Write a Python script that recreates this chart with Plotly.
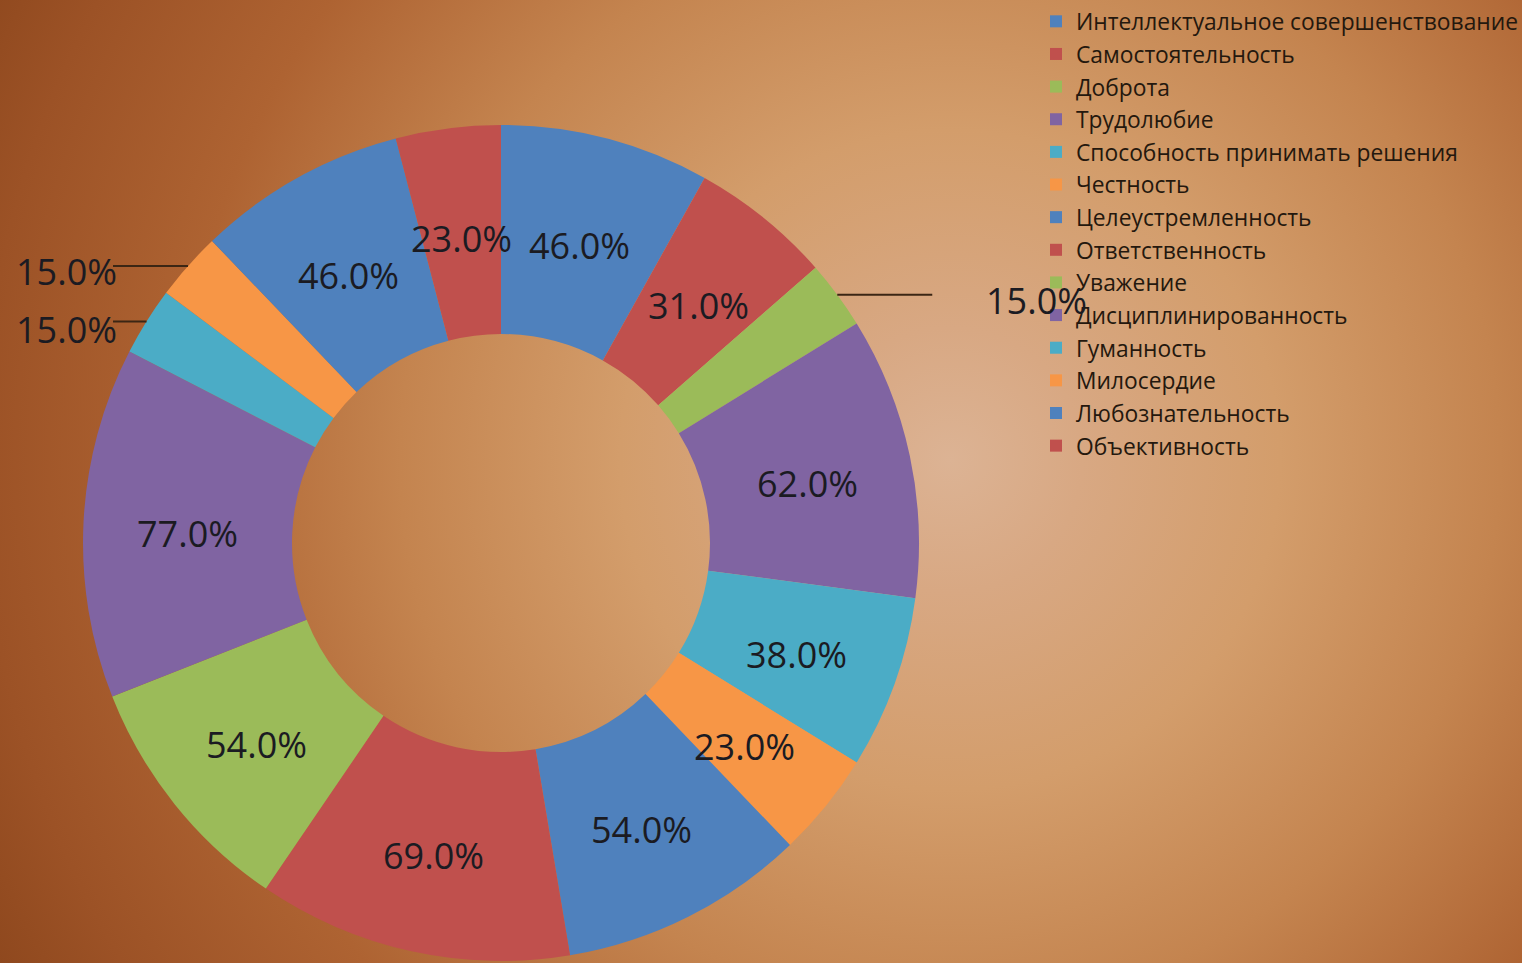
import math
import base64
import plotly.graph_objects as go

# Data: share of respondents naming each quality (%)
categories = [
    "Интеллектуальное совершенствование",
    "Самостоятельность",
    "Доброта",
    "Трудолюбие",
    "Способность принимать решения",
    "Честность",
    "Целеустремленность",
    "Ответственность",
    "Уважение",
    "Дисциплинированность",
    "Гуманность",
    "Милосердие",
    "Любознательность",
    "Объективность",
]
values = [46, 31, 15, 62, 38, 23, 54, 69, 54, 77, 15, 15, 46, 23]

palette = ["#4f81bd", "#c0504d", "#9bbb59", "#8064a2", "#4bacc6", "#f79646"]
colors = [palette[i % len(palette)] for i in range(len(values))]

W, H = 1522, 963
CX, CY, R = 501, 543, 418          # ring centre and outer radius, px
HOLE = 0.5
LABEL_FONT = dict(family="Open Sans, Lato, sans-serif", size=36, color="#1b1b22")
LINE_COLOR = "#3b2614"

# warm radial backdrop
svg = f"""<svg xmlns="http://www.w3.org/2000/svg" width="{W}" height="{H}" viewBox="0 0 {W} {H}">
<defs><radialGradient id="g" gradientUnits="userSpaceOnUse" cx="950" cy="460" r="1100">
<stop offset="0" stop-color="#dcb394"/>
<stop offset="0.12" stop-color="#d8a883"/>
<stop offset="0.3" stop-color="#d39d6b"/>
<stop offset="0.5" stop-color="#c4844f"/>
<stop offset="0.7" stop-color="#ae6332"/>
<stop offset="0.88" stop-color="#9c5226"/>
<stop offset="1" stop-color="#8c461c"/>
</radialGradient></defs>
<rect width="{W}" height="{H}" fill="url(#g)"/></svg>"""
bg_uri = "data:image/svg+xml;base64," + base64.b64encode(svg.encode()).decode()

fig = go.Figure(go.Pie(
    labels=categories,
    values=values,
    hole=HOLE,
    sort=False,
    direction="clockwise",
    rotation=0,
    marker=dict(colors=colors, line=dict(width=0)),
    textinfo="none",
    hoverinfo="label+value",
    domain=dict(x=[(CX - R) / W, (CX + R) / W],
                y=[(H - CY - R) / H, (H - CY + R) / H]),
))


def px_to_paper(x, y):
    return x / W, 1 - y / H


total = sum(values)
annotations = []
shapes = []
cum = 0.0
for v in values:
    theta = math.radians(360.0 * (cum + v / 2) / total)
    cum += v
    text = f"{v:.1f}%"
    s, c = math.sin(theta), math.cos(theta)
    if v >= 20:
        r_lab = R * (1 + HOLE) / 2
        x, y = px_to_paper(CX + r_lab * s, CY - r_lab * c)
        annotations.append(dict(x=x, y=y, xref="paper", yref="paper", text=text,
                                showarrow=False, font=LABEL_FONT, yshift=-6,
                                xanchor="center", yanchor="middle"))
    else:
        ex, ey = CX + R * s, CY - R * c
        if s >= 0:
            lx = ex + 95
            tx, anchor = lx + 52, "left"
        else:
            lx = CX - R + 30
            tx, anchor = lx + 6, "right"
        x0, y0 = px_to_paper(ex, ey)
        x1, y1 = px_to_paper(lx, ey)
        shapes.append(dict(type="line", xref="paper", yref="paper",
                           x0=x0, y0=y0, x1=x1, y1=y1,
                           line=dict(color=LINE_COLOR, width=2)))
        tx_p, ty_p = px_to_paper(tx, ey)
        annotations.append(dict(x=tx_p, y=ty_p, xref="paper", yref="paper", text=text,
                                showarrow=False, font=LABEL_FONT, yshift=-6,
                                xanchor=anchor, yanchor="middle"))

# keep the two left-hand outside labels from overlapping
left_small = [a for a in annotations if a["xanchor"] == "right"]
left_small.sort(key=lambda a: -a["y"])
for upper, lower in zip(left_small, left_small[1:]):
    min_gap = 58 / H
    if upper["y"] - lower["y"] < min_gap:
        lower["y"] = upper["y"] - min_gap

fig.update_layout(
    width=W,
    height=H,
    margin=dict(l=0, r=0, t=0, b=0, autoexpand=False),
    paper_bgcolor="#c4844f",
    plot_bgcolor="rgba(0,0,0,0)",
    images=[dict(source=bg_uri, xref="paper", yref="paper", x=0, y=1,
                 sizex=1, sizey=1, xanchor="left", yanchor="top",
                 sizing="stretch", layer="below")],
    showlegend=True,
    legend=dict(
        x=1036 / W, y=1, xanchor="left", yanchor="top",
        bgcolor="rgba(0,0,0,0)",
        font=dict(family="Open Sans", size=22.8, color="#24180e"),
        traceorder="normal",
    ),
    annotations=annotations,
    shapes=shapes,
)

fig.write_html("out.html")
